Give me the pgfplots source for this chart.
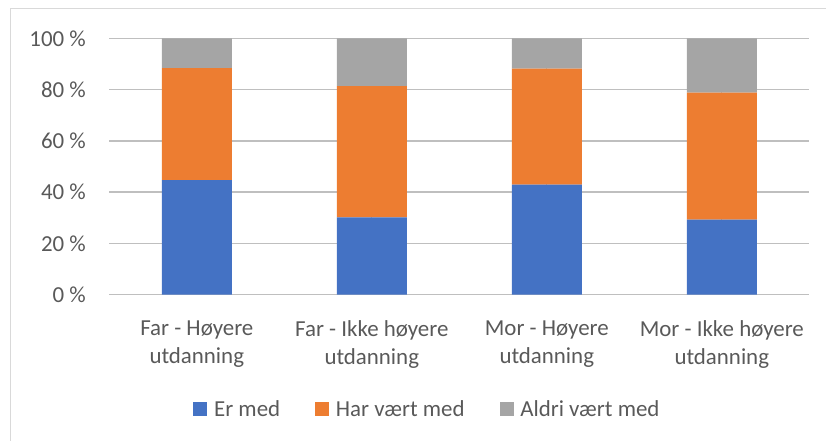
\documentclass[border=0pt]{standalone}
\usepackage{pgfplots}
\pgfplotsset{compat=1.18}
\usepackage{fontspec}
\setmainfont{Carlito}
\definecolor{cblue}{HTML}{4472C4}
\definecolor{corange}{HTML}{ED7D31}
\definecolor{cgray}{HTML}{A5A5A5}
\definecolor{tgray}{HTML}{595959}
\definecolor{grid}{HTML}{D9D9D9}
\newcommand{\cf}{\fontsize{22.9}{28.3}\selectfont}
\begin{document}
\begin{tikzpicture}
\draw[grid, line width=1pt] (10pt,-9pt) rectangle (900pt,-600pt);
\begin{axis}[
  at={(109.3pt,-294.7pt)}, anchor=south west,
  scale only axis, width=700pt, height=256.4pt,
  xmin=-0.5, xmax=3.5, ymin=0, ymax=100,
  ybar stacked, bar width=70pt,
  axis line style={draw=none},
  major tick length=0pt,
  ymajorgrids, grid style={grid, line width=1.3pt},
  xtick={0,1,2,3},
  xticklabels={{Far - Høyere\\utdanning},{Far - Ikke høyere\\utdanning},{Mor - Høyere\\utdanning},{Mor - Ikke høyere\\utdanning}},
  xticklabel style={align=center, font=\cf, text=tgray, inner sep=0pt, anchor=north, yshift=-25.7pt},
  ytick={0,20,40,60,80,100},
  yticklabels={0 \%,20 \%,40 \%,60 \%,80 \%,100 \%},
  yticklabel style={font=\cf, text=tgray, inner sep=0pt, anchor=east, xshift=-23.3pt},
  legend columns=-1,
  legend style={at={(0.4531,-0.4458)}, anchor=center, draw=none, fill=none,
    nodes={inner sep=0pt, text=tgray, font=\cf},
    /tikz/every odd column/.append style={column sep=6.7pt},
    /tikz/every even column/.append style={column sep=35pt}},
  legend image code/.code={\fill[#1] (0pt,-7pt) rectangle (14pt,7pt);},
]
\addplot[fill=cblue, draw=none] coordinates {(0,44.7) (1,30.2) (2,42.9) (3,29.3)};
\addplot[fill=corange, draw=none] coordinates {(0,43.7) (1,51.1) (2,45.3) (3,49.5)};
\addplot[fill=cgray, draw=none] coordinates {(0,11.6) (1,18.7) (2,11.8) (3,21.2)};
\legend{Er med, Har vært med, Aldri vært med}
\end{axis}
\pgfresetboundingbox
\useasboundingbox (0pt,0pt) rectangle (826pt,-441pt);
\end{tikzpicture}
\end{document}
